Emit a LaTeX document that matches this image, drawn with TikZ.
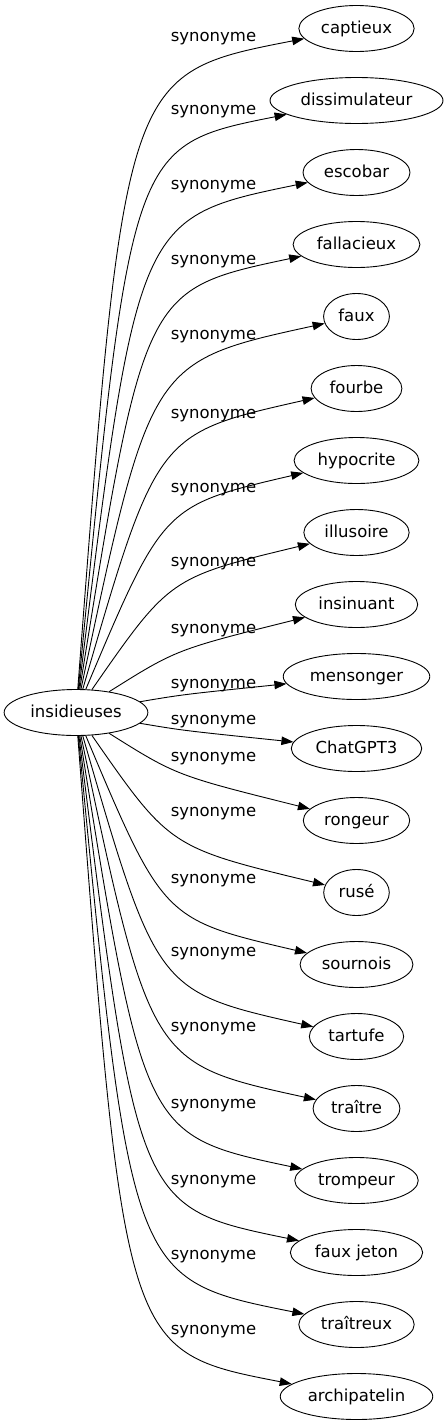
\documentclass[tikz,border=0pt]{standalone}
\usepackage{fontspec}
\setmainfont{DejaVu Sans}
\usetikzlibrary{arrows.meta,shapes.geometric}
\tikzstyle{word}=[ellipse,draw,line width=0.9pt,inner xsep=5.2pt,inner ysep=2pt,minimum height=46pt,text height=12.6pt,text depth=3pt]
\tikzstyle{rel}=[anchor=base,inner sep=0pt]
\tikzstyle{link}=[line width=0.9pt,-{Triangle[length=12pt,width=8.5pt]}]

\begin{document}
\begin{tikzpicture}[x=1pt,y=-1pt,font=\fontsize{16.5}{19}\selectfont]
  \useasboundingbox (0,0) rectangle (446,1427);
  \def\rooty{712.5}

  \node[word] (root) at (76,\rooty) {insidieuses};

  \foreach \name/\word/\ly [count=\i from 0] in {captieux/captieux/35,
    dissimulateur/dissimulateur/108, escobar/escobar/183,
    fallacieux/fallacieux/258, faux/faux/333, fourbe/fourbe/412,
    hypocrite/hypocrite/486, illusoire/illusoire/560,
    insinuant/insinuant/627, mensonger/mensonger/682,
    chatgpt/ChatGPT3/718, rongeur/rongeur/755, ruse/rusé/810,
    sournois/sournois/877, tartufe/tartufe/950, traitre/traître/1025,
    trompeur/trompeur/1102, fauxjeton/faux jeton/1178,
    traitreux/traîtreux/1253, archipatelin/archipatelin/1328} {
    \pgfmathsetmacro{\ey}{28.5+72*\i}
    \pgfmathsetmacro{\dd}{abs(\ey-\rooty)}
    \pgfmathsetmacro{\side}{ifthenelse(\ey<\rooty,1,-1)}
    \pgfmathsetmacro{\kx}{186-0.09*\dd}
    \pgfmathsetmacro{\ky}{\ey+\side*min(0.5*\dd,45)}

    \node[word] (\name) at (356.5,\ey) {\word};
    \node[rel] (rel \name) at (213.5,\ly+6) {synonyme};
    \draw[link] (root) .. controls (\kx,\ky) .. (\name);
  }
\end{tikzpicture}
\end{document}
